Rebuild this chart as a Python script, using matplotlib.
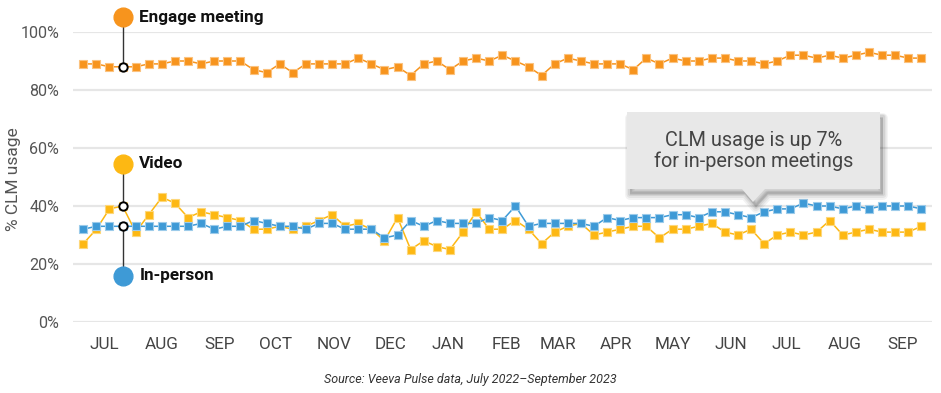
import matplotlib
matplotlib.use("Agg")
import matplotlib.pyplot as plt
import numpy as np
import pandas as pd
from matplotlib.patches import Polygon
from matplotlib.ticker import FuncFormatter

# weekly CLM usage (%), July 2022 - September 2023
weeks = pd.date_range("2022-07-03", periods=65, freq="7D")

engage = [89, 89, 88, 88, 88, 89, 89, 90, 90, 89, 90, 90, 90, 87, 86, 89, 86, 89, 89, 89, 89, 91,
          89, 87, 88, 85, 89, 90, 87, 90, 91, 90, 92, 90, 88, 85, 89, 91, 90, 89, 89, 89, 87,
          91, 89, 91, 90, 90, 91, 91, 90, 90, 89, 90, 92, 92, 91, 92, 91, 92, 93, 92, 92, 91, 91]
video = [27, 32, 39, 40, 31, 37, 43, 41, 36, 38, 37, 36, 35, 32, 32, 33, 32, 33, 35, 37,
         33, 34, 32, 28, 36, 25, 28, 26, 25, 31, 38, 32, 32, 35, 32, 27, 31, 33, 34, 30, 31,
         32, 33, 33, 29, 32, 32, 33, 34, 31, 30, 32, 27, 30, 31, 30, 31, 35, 30, 31, 32, 31, 31, 31, 33]
in_person = [32, 33, 33, 33, 33, 33, 33, 33, 33, 34, 32, 33, 33, 35, 34, 33, 33, 32, 34, 34,
             32, 32, 32, 29, 30, 35, 33, 35, 34, 34, 34, 36, 35, 40, 33, 34, 34, 34, 34, 33, 36,
             35, 36, 36, 36, 37, 37, 36, 38, 38, 37, 36, 38, 39, 39, 41, 40, 40, 39, 40, 39, 40, 40, 40, 39]

month_ticks = pd.date_range("2022-07-01", periods=15, freq="MS") + pd.Timedelta(days=13)
month_labels = ["JUL", "AUG", "SEP", "OCT", "NOV", "DEC", "JAN", "FEB", "MAR",
                "APR", "MAY", "JUN", "JUL", "AUG", "SEP"]
y_ticks = [0, 20, 40, 60, 80, 100]

# label dots: (name, colour, dot y, series value at the pinned week)
label_idx = 3
labels = [
    ("Engage meeting", "#F7941D", 105.1, engage[label_idx]),
    ("Video", "#FDB813", 54.5, video[label_idx]),
    ("In-person", "#3E9AD6", 15.9, in_person[label_idx]),
]

W, H = 941, 393
fig = plt.figure(figsize=(W / 100, H / 100), dpi=100)
ax = fig.add_axes([73 / W, 1 - 322 / H, (932 - 73) / W, (322 - 32) / H])

main_font = ["Roboto", "DejaVu Sans"]

for yv in y_ticks:
    ax.axhline(yv, color="#e6e6e6", lw=1.6, zorder=0)

series = [
    (video, "#FDB813", "#FDD77A"),
    (in_person, "#3E9AD6", "#9CCBEA"),
    (engage, "#F7941D", "#FBC27F"),
]
for vals, col, halo in series:
    ax.plot(weeks, vals, color=col, lw=1.1, marker="s", markersize=5.2,
            markerfacecolor=col, markeredgecolor=halo, markeredgewidth=0.8, zorder=3)

# pinned labels
xl = weeks[label_idx]
for name, col, ydot, yval in labels:
    ax.plot([xl, xl], [ydot, yval], color="#333333", lw=1.0, zorder=4, clip_on=False)
    ax.plot(xl, yval, marker="o", markersize=6, markerfacecolor="white",
            markeredgecolor="black", markeredgewidth=1.4, zorder=6, clip_on=False)
    ax.plot(xl, ydot, marker="o", markersize=13.5, color=col, zorder=6, clip_on=False)
    ax.text(xl + pd.Timedelta(days=9), ydot, name, fontsize=12.3, fontweight="bold",
            family=main_font, color="#111111", va="center", ha="left", clip_on=False)

ax.set_ylim(0, 100)
ax.set_xlim(weeks[0] - pd.Timedelta(days=5.5), weeks[-1] + pd.Timedelta(days=5.7))
ax.set_yticks(y_ticks)
ax.yaxis.set_major_formatter(FuncFormatter(lambda v, p: "{:d}%".format(int(v))))
ax.set_xticks(month_ticks)
ax.set_xticklabels(month_labels)
ax.tick_params(axis="both", length=0)
ax.tick_params(axis="y", pad=10, labelsize=11.6, labelcolor="#555555")
ax.tick_params(axis="x", pad=11, labelsize=12.3, labelcolor="#444444")
for t in ax.get_yticklabels() + ax.get_xticklabels():
    t.set_family(main_font)
for s in ax.spines.values():
    s.set_visible(False)
ax.set_facecolor("none")

fig.text(13.7 / W, 1 - 179 / H, "% CLM usage", rotation=90, ha="center", va="center",
         fontsize=12.5, color="#555555", family=main_font)
fig.text(470 / W, 1 - 380 / H, "Source: Veeva Pulse data, July 2022\u2013September 2023",
         ha="center", va="center", fontsize=9, style="italic", color="#333333",
         family=main_font)

# callout box with pointer
def px(x, y):
    return (x / W, 1 - y / H)

box = [(627, 112), (880, 112), (880, 189), (765, 189), (753, 202), (742, 189), (627, 189)]
for k, a in [(7, 0.05), (5, 0.06), (3, 0.07)]:
    shadow = Polygon([px(x + 3, y + 4 + k * 0.3) for x, y in box], closed=True,
                     transform=fig.transFigure, facecolor="#000000", alpha=a,
                     edgecolor="#000000", lw=k, joinstyle="round", zorder=7)
    fig.patches.append(shadow)
callout = Polygon([px(x, y) for x, y in box], closed=True, transform=fig.transFigure,
                  facecolor="#e8e8e8", edgecolor="none", zorder=8)
fig.patches.append(callout)
fig.text(754 / W, 1 - 151 / H, "CLM usage is up 7%\nfor in-person meetings",
         ha="center", va="center", fontsize=14.3, color="#444444", family=main_font,
         linespacing=1.1, zorder=9)

fig.savefig("out.png", dpi=100)
